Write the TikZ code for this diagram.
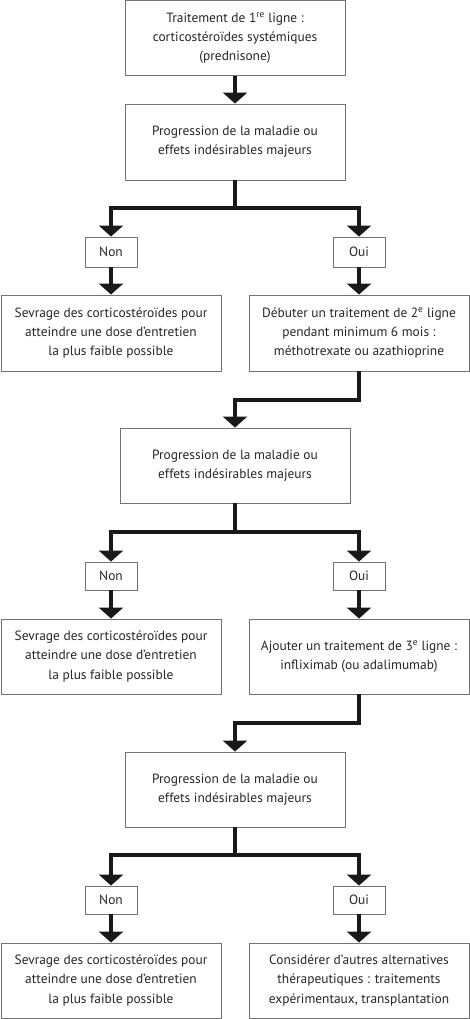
\documentclass[tikz,border=0pt]{standalone}
\usepackage{fontspec}
\setmainfont{PT Sans}
\usetikzlibrary{arrows.meta,positioning}
\newcommand{\supr}[1]{\textsuperscript{\scriptsize #1}}
\tikzset{
  x=1pt,y=1pt,
  box/.style={draw=black!55, line width=0.9pt, inner sep=0pt, align=center,
    text=black!85, font=\fontsize{13.4}{19.3}\selectfont},
  big/.style={box, minimum width=220pt, minimum height=76pt},
  lab/.style={box, minimum width=52pt, minimum height=30pt},
  arr/.style={line width=3.6pt, draw=black!90, -{Triangle[width=24pt,length=11pt]}},
  seg/.style={line width=3.6pt, draw=black!90},
}
\begin{document}
\begin{tikzpicture}
\useasboundingbox (0,0) rectangle (470,-1019);
% level 1
\node[big, minimum height=75pt] (t1) at (235,-38) {Traitement de 1\textsuperscript{re} ligne :\\corticostéroïdes systémiques\\(prednisone)};
\node[big] (p1) at (235,-142) {Progression de la maladie ou\\effets indésirables majeurs};
\node[lab] (n1) at (111,-252) {Non};
\node[lab] (o1) at (359,-252) {Oui};
\node[big] (s1) at (111,-333) {Sevrage des corticostéroïdes pour\\atteindre une dose d’entretien\\la plus faible possible};
\node[big] (d1) at (359,-333) {Débuter un traitement de 2\textsuperscript{e} ligne\\pendant minimum 6 mois :\\méthotrexate ou azathioprine};
\coordinate (j1) at (235,-208);
\coordinate (k1) at (235,-400);
% level 2
\node[big, minimum width=230pt, minimum height=75pt] (p2) at (235,-465.5) {Progression de la maladie ou\\effets indésirables majeurs};
\node[lab, minimum height=28pt] (n2) at (111,-576) {Non};
\node[lab, minimum height=28pt] (o2) at (359,-576) {Oui};
\node[big, minimum height=75pt] (s2) at (111,-656.5) {Sevrage des corticostéroïdes pour\\atteindre une dose d’entretien\\la plus faible possible};
\node[big, minimum height=75pt] (d2) at (359,-656.5) {Ajouter un traitement de 3\textsuperscript{e} ligne :\\infliximab (ou adalimumab)};
\coordinate (j2) at (235,-532);
\coordinate (k2) at (235,-723);
% level 3
\node[big, minimum height=75pt] (p3) at (235,-789.5) {Progression de la maladie ou\\effets indésirables majeurs};
\node[lab, minimum height=28pt] (n3) at (111,-900) {Non};
\node[lab, minimum height=28pt] (o3) at (359,-900) {Oui};
\node[big, minimum height=75pt] (s3) at (111,-980.5) {Sevrage des corticostéroïdes pour\\atteindre une dose d’entretien\\la plus faible possible};
\node[big, minimum height=75pt] (d3) at (359,-980.5) {Considérer d’autres alternatives\\thérapeutiques : traitements\\expérimentaux, transplantation};
\coordinate (j3) at (235,-855);
% connectors
\draw[arr] (t1.south) -- (p1.north);
\draw[seg] (p1.south) -- (j1);
\draw[arr] (j1) -| (n1.north);
\draw[arr] (j1) -| (o1.north);
\draw[arr] (n1.south) -- (s1.north);
\draw[arr] (o1.south) -- (d1.north);
\draw[arr] (d1.south) |- (k1) -- (p2.north);
\draw[seg] (p2.south) -- (j2);
\draw[arr] (j2) -| (n2.north);
\draw[arr] (j2) -| (o2.north);
\draw[arr] (n2.south) -- (s2.north);
\draw[arr] (o2.south) -- (d2.north);
\draw[arr] (d2.south) |- (k2) -- (p3.north);
\draw[seg] (p3.south) -- (j3);
\draw[arr] (j3) -| (n3.north);
\draw[arr] (j3) -| (o3.north);
\draw[arr] (n3.south) -- (s3.north);
\draw[arr] (o3.south) -- (d3.north);
\end{tikzpicture}
\end{document}
